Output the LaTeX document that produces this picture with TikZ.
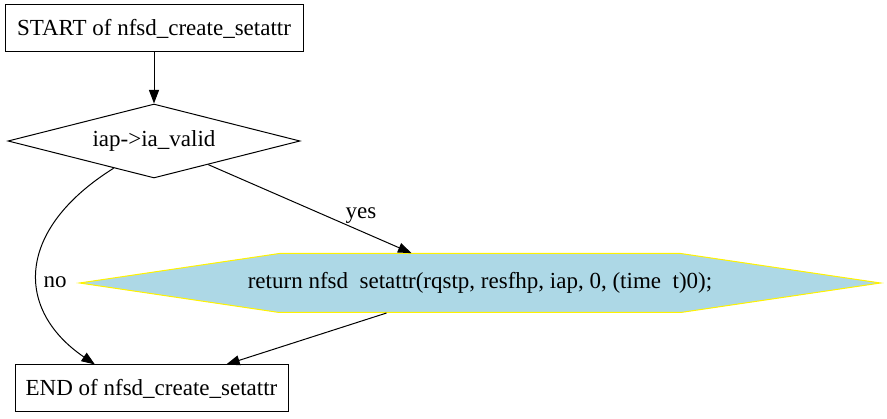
\documentclass[tikz,border=0pt]{standalone}
\usepackage{fontspec}
\newfontfamily\tnr{Liberation Serif}
\usetikzlibrary{shapes.geometric,shapes.symbols,arrows.meta}
\begin{document}
\begin{tikzpicture}[x=1pt,y=-1pt,
	font=\tnr\fontsize{23}{27}\selectfont,
	box/.style={draw,line width=1pt,minimum height=47pt,inner sep=0pt},
	cond/.style={draw,diamond,aspect=4,line width=1pt,minimum width=292pt,minimum height=74pt,inner sep=0pt},
	act/.style={signal,signal to=west and east,signal pointer angle=16.8,draw=yellow,fill=lblue,line width=1pt,minimum height=59pt,inner xsep=-31.5pt,inner ysep=0pt},
	edge/.style={-{Triangle[length=13.5pt,width=10pt]},line width=1pt}]
	\definecolor{lblue}{RGB}{173,216,230}
	\useasboundingbox (0,0) rectangle (887,419);
	\node[box,minimum width=298pt] (start) at (154,28.5) {START of nfsd\_create\_setattr};
	\node[cond] (valid) at (154,141) {iap->ia\_valid};
	\node[act] (ret) at (480,283) {return nfsd\ \ setattr(rqstp, resfhp, iap, 0, (time\ \ t)0);};
	\node[box,minimum width=273pt] (end) at (151.5,388.5) {END of nfsd\_create\_setattr};
	\node (yes) at (361,216) {yes};
	\node (no) at (55,282) {no};
	\draw[edge] (start) -- (valid);
	\draw[edge] (valid) -- (ret);
	\draw[edge] (valid.214) .. controls (15,230) and (15,310) .. (end.157);
	\draw[edge] (ret) -- (end);
\end{tikzpicture}
\end{document}
